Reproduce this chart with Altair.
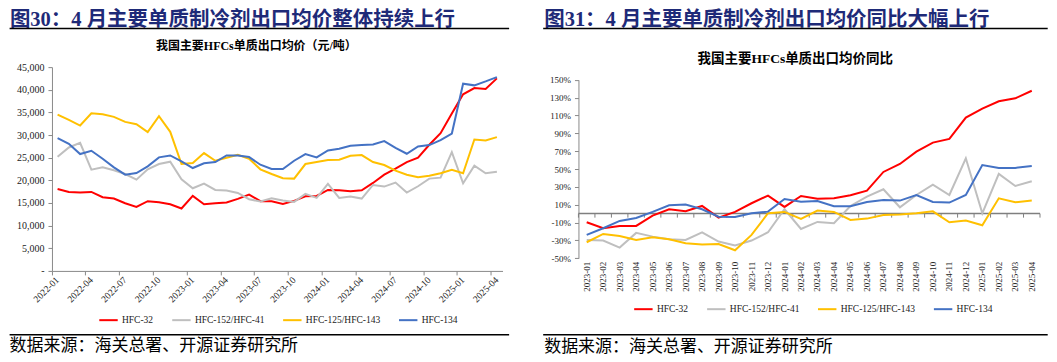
import altair as alt
import pandas as pd

# ---------------- data ----------------
months_L = [f"{y}-{m:02d}" for y in (2022, 2023, 2024, 2025) for m in range(1, 13)][:40]
months_R = [f"{y}-{m:02d}" for y in (2023, 2024, 2025) for m in range(1, 13)][:28]

series = ["HFC-32", "HFC-152/HFC-41", "HFC-125/HFC-143", "HFC-134"]
colors = ["#FF0000", "#BFBFBF", "#FFC000", "#4472C4"]

# export average price (yuan/ton)
price_hfc32 = [18100, 17440, 17300, 17440, 16270, 15980, 14950, 14150, 15390, 15170,
               14730, 13780, 16560, 14730, 14950, 15100, 15900, 16860, 15390, 15390,
               14800, 15460, 16490, 16560, 17880, 17810, 17590, 17810, 19420, 21250,
               22570, 24040, 24990, 27850, 30420, 34740, 38990, 40380, 40160, 42510]
price_hfc152 = [25210, 27260, 28290, 22350, 22870, 22210, 21400, 20150, 22430, 23600,
                24110, 20230, 18250, 19280, 17880, 17740, 17220, 15830, 15320, 16050,
                15540, 15240, 17000, 16120, 19200, 16120, 16420, 15980, 18980, 18620,
                19500, 17300, 18690, 20380, 20590, 26240, 19350, 23230, 21550, 21910]
price_hfc125 = [34520, 33350, 32100, 34810, 34590, 34010, 32910, 32390, 30640, 34150,
                30710, 23600, 23820, 26020, 24330, 24990, 25650, 24770, 22430, 21400,
                20450, 20380, 23600, 24040, 24480, 24550, 25430, 25580, 24040, 23380,
                22130, 21250, 20670, 21030, 21550, 22350, 21550, 29020, 28800, 29540]
price_hfc134 = [29320, 28070, 25800, 26530, 24770, 22870, 21250, 21620, 23090, 25070,
                25500, 24180, 22720, 23750, 24040, 25500, 25500, 25140, 23450, 22500,
                22500, 24330, 25800, 25070, 26600, 26970, 27630, 27780, 27920, 28660,
                27190, 25870, 27480, 27780, 28880, 30340, 41340, 40970, 41850, 42800]

# year-on-year change (%)
yoy_hfc32 = [-9.7, -16.4, -13.8, -13.8, -2.2, 4.9, 2.6, 8.6, -4.5, 1.9, 11.6, 20.2, 7.5, 19.8,
             16.8, 17.2, 20.6, 25.8, 46.7, 55.7, 69.5, 79.6, 83.7, 107.6, 117.6, 125.9, 129.2, 137.7]
yoy_hfc152 = [-29.5, -30.2, -38.1, -21.6, -25.8, -28.7, -29.5, -20.9, -31.3, -35.8, -30.2, -20.9, 4.9, -17.2,
              -9.3, -10.8, 8.6, 19.1, 27.3, 7.1, 20.9, 32.5, 20.9, 62.0, 0.4, 44.5, 31.0, 36.2]
yoy_hfc125 = [-32.1, -22.8, -25.0, -29.5, -26.5, -28.7, -33.2, -34.7, -34.0, -41.1, -23.9, 0.4, 1.9, -5.9,
              3.4, 1.9, -7.1, -5.6, -1.5, -1.1, 0.4, 2.6, -9.7, -7.8, -13.0, 17.2, 12.7, 14.6]
yoy_hfc134 = [-23.9, -16.4, -8.2, -4.9, 1.9, 9.3, 10.1, 4.9, -3.4, -3.7, 0.4, 2.2, 16.4, 13.4,
              14.2, 8.3, 8.3, 13.1, 15.3, 14.6, 20.9, 13.1, 12.4, 20.9, 54.5, 51.2, 51.2, 53.4]

yticks_L = list(range(0, 45001, 5000))
yticks_R = list(range(-50, 151, 20))

header_L_text = "图30：4 月主要单质制冷剂出口均价整体持续上行"
header_R_text = "图31：4 月主要单质制冷剂出口均价同比大幅上行"
title_L_text = "我国主要HFCs单质出口均价（元/吨）"
title_R_text = "我国主要HFCs单质出口均价同比"
source_text = "数据来源：海关总署、开源证券研究所"


def long_df(months, cols):
    rows = []
    for s, vals in zip(series, cols):
        for m, v in zip(months, vals):
            rows.append({"month": m, "series": s, "value": v})
    return pd.DataFrame(rows)


dfL = long_df(months_L, [price_hfc32, price_hfc152, price_hfc125, price_hfc134])
dfR = long_df(months_R, [yoy_hfc32, yoy_hfc152, yoy_hfc125, yoy_hfc134])

# ---------------- styling ----------------
SERIF = "Liberation Serif"
MIX = "Liberation Serif, Noto Sans CJK SC"
CJK = "Noto Sans CJK SC"
NAVY = "#1E2A78"
AX = "#898989"
LAB = "#222222"
ZERO = "#7F7F7F"


def txt(t, x, y, size, color="#000000", weight="normal", font=MIX, align="left", baseline="middle"):
    return alt.Chart(pd.DataFrame({"t": [t]})).mark_text(
        align=align, baseline=baseline, fontSize=size, fontWeight=weight, color=color, font=font
    ).encode(x=alt.value(x), y=alt.value(y), text="t:N")


def hline(x1, x2, y, width=1.5, color="#000000"):
    return alt.Chart(pd.DataFrame({"t": [0]})).mark_rule(color=color, strokeWidth=width).encode(
        x=alt.value(x1), x2=alt.value(x2), y=alt.value(y))


def legend(x, y):
    return alt.Legend(orient="none", legendX=x, legendY=y, direction="horizontal", columns=4,
                      title=None, symbolType="stroke", symbolStrokeWidth=2, symbolSize=340,
                      labelFont=SERIF, labelFontSize=9.5, labelColor=LAB, labelOffset=3,
                      columnPadding=14, padding=0)


# both plot areas share the same top edge (page y = 68)
OY = 68.0
HEAD_Y = 11.3   # top of the header text box (page y)


def py(p):
    return p - OY


# ---------------- left panel ----------------
WL, HL = 451, 204
OXL = 50.4


def lx(p):
    return p - OXL


lines_L = alt.Chart(dfL).mark_line(strokeWidth=2).encode(
    x=alt.X("month:O", sort=months_L,
            scale=alt.Scale(type="band", paddingInner=0, paddingOuter=0),
            axis=alt.Axis(values=months_L[::3], bandPosition=0, labelAngle=-45, labelAlign="right",
                          labelBaseline="middle", labelFont=SERIF, labelFontSize=9.5, labelColor=LAB,
                          labelPadding=3, tickSize=4, tickColor=AX, domainColor=AX, grid=False,
                          title=None)),
    y=alt.Y("value:Q", scale=alt.Scale(domain=[0, 45000], nice=False),
            axis=alt.Axis(values=yticks_L, labelOverlap=False,
                          labelExpr="datum.value == 0 ? '-' : format(datum.value, ',')",
                          labelFont=SERIF, labelFontSize=10, labelColor=LAB, labelPadding=4,
                          tickSize=4, tickColor=AX, domainColor=AX, grid=False, title=None)),
    color=alt.Color("series:N", scale=alt.Scale(domain=series, range=colors), sort=series,
                    legend=legend(lx(96.5), py(310.8))),
)

left = alt.layer(
    lines_L,
    txt(header_L_text, lx(8.3), py(HEAD_Y), 20.5, NAVY, "bold", baseline="top"),
    hline(lx(8), lx(508), py(29.3)),
    txt(title_L_text, lx(255), py(47), 12, "#000000", "bold", align="center"),
    hline(lx(8), lx(508), py(336)),
    txt(source_text, lx(8), py(347.5), 17, "#000000", "normal", font=CJK),
).properties(width=WL, height=HL)

# ---------------- right panel ----------------
WR = 462
HR = 259.3 - OY          # plot area from page y 68 down to the -50% line
TOP_R = 80.7 - OY        # where 150% sits inside the panel
OXR = 577.0


def rx(p):
    return p - OXR


lines_R = alt.Chart(dfR).mark_line(strokeWidth=2).encode(
    x=alt.X("month:O", sort=months_R,
            scale=alt.Scale(type="band", paddingInner=0, paddingOuter=0),
            axis=alt.Axis(labelAngle=-90, labelAlign="right", labelBaseline="middle",
                          labelFont=SERIF, labelFontSize=9, labelColor=LAB, labelPadding=3,
                          ticks=False, domain=False, grid=False, title=None)),
    y=alt.Y("value:Q", scale=alt.Scale(domain=[-50, 150], nice=False, range=[HR, TOP_R]),
            axis=alt.Axis(values=yticks_R, labelOverlap=False, labelExpr="datum.value + '%'",
                          labelFont=SERIF, labelFontSize=9, labelColor=LAB, labelPadding=4,
                          tickSize=4, tickColor=AX, domainColor=AX, grid=False, title=None)),
    color=alt.Color("series:N", scale=alt.Scale(domain=series, range=colors), sort=series,
                    legend=legend(rx(631.5), py(299.8))),
)

zero_line = alt.Chart(pd.DataFrame({"z": [0]})).mark_rule(color=ZERO, strokeWidth=1.5).encode(
    y=alt.YDatum(0, axis=None))

tick_df = pd.DataFrame({"month": months_R})
zero_ticks = alt.Chart(tick_df).mark_rule(color=ZERO, strokeWidth=1).encode(
    x=alt.X("month:O", sort=months_R, bandPosition=0, axis=None),
    y=alt.YDatum(0, axis=None), y2=alt.Y2Datum(-4.5))
end_tick = alt.Chart(pd.DataFrame({"month": months_R[-1:]})).mark_rule(color=ZERO, strokeWidth=1).encode(
    x=alt.X("month:O", sort=months_R, bandPosition=1, axis=None),
    y=alt.YDatum(0, axis=None), y2=alt.Y2Datum(-4.5))

right = alt.layer(
    zero_line, zero_ticks, end_tick, lines_R,
    txt(header_R_text, rx(542.7), py(HEAD_Y), 20.5, NAVY, "bold", baseline="top"),
    hline(rx(541.7), rx(1046.7), py(29.3)),
    txt(title_R_text, rx(794), py(60), 13.5, "#000000", "bold", align="center"),
    hline(rx(541.7), rx(1046.7), py(336)),
    txt(source_text, rx(542.7), py(348.5), 17, "#000000", "normal", font=CJK),
).resolve_axis(x="independent", y="independent").properties(width=WR, height=HR)

chart = alt.hconcat(left, right, spacing=31).resolve_scale(
    color="independent"
).resolve_legend(
    color="independent"
).properties(
    padding={"top": 2, "left": 0, "right": 0, "bottom": 0}, background="white"
).configure_view(strokeWidth=0)

chart.save("out.html", embed_options={"renderer": "svg", "actions": False})
